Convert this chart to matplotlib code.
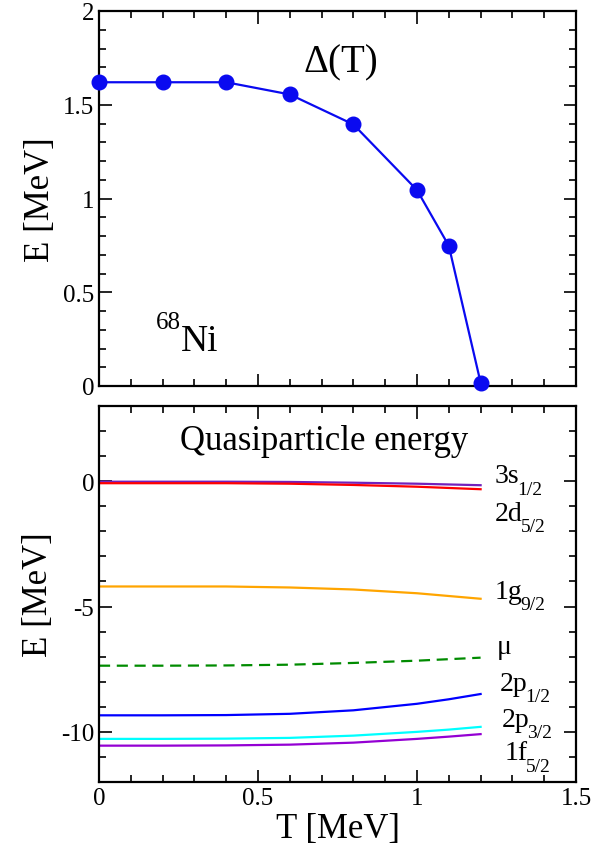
import matplotlib
matplotlib.use("Agg")
import matplotlib.pyplot as plt
from matplotlib.ticker import MultipleLocator, FuncFormatter
from matplotlib.transforms import offset_copy

plt.rcParams['font.family'] = ['Liberation Serif', 'DejaVu Serif']
plt.rcParams['axes.unicode_minus'] = False

# Pairing gap of 68Ni versus temperature
T = [0.0, 0.2, 0.4, 0.6, 0.8, 1.0, 1.1, 1.2]
gap = [1.62, 1.62, 1.62, 1.555, 1.395, 1.045, 0.748, 0.018]

# Quasiparticle energies (MeV) at the same temperatures
e_3s12 = [-0.02, -0.02, -0.02, -0.03, -0.06, -0.10, -0.13, -0.16]
e_2d52 = [-0.08, -0.08, -0.08, -0.10, -0.15, -0.22, -0.27, -0.32]
e_1g92 = [-4.20, -4.20, -4.20, -4.24, -4.32, -4.47, -4.58, -4.69]
e_mu = [-7.36, -7.36, -7.35, -7.32, -7.25, -7.16, -7.10, -7.04]
e_2p12 = [-9.34, -9.34, -9.33, -9.28, -9.14, -8.88, -8.70, -8.49]
e_2p32 = [-10.28, -10.28, -10.27, -10.24, -10.15, -10.00, -9.91, -9.80]
e_1f52 = [-10.55, -10.55, -10.54, -10.51, -10.43, -10.28, -10.19, -10.09]

W, H = 615, 853
fig = plt.figure(figsize=(W / 100, H / 100), dpi=100)
x0, x1 = 99, 576
ax1 = fig.add_axes([x0 / W, 1 - 387 / H, (x1 - x0) / W, (387 - 12) / H])
ax2 = fig.add_axes([x0 / W, 1 - 783 / H, (x1 - x0) / W, (783 - 407) / H])

TICK_FS = 18
LABEL_FS = 25
fmt = FuncFormatter(lambda v, p: f"{v:g}")


def style(ax):
    ax.tick_params(which='both', direction='in', top=True, right=True,
                   labelsize=TICK_FS, width=1.2)
    ax.tick_params(which='major', length=9)
    ax.tick_params(which='minor', length=5)
    for s in ax.spines.values():
        s.set_linewidth(1.6)
    ax.set_xlim(0, 1.5)
    ax.xaxis.set_major_locator(MultipleLocator(0.5))
    ax.xaxis.set_minor_locator(MultipleLocator(0.1))
    ax.xaxis.set_major_formatter(fmt)
    ax.yaxis.set_major_formatter(fmt)


# Upper panel: gap
ax1.plot(T, gap, color='#0a0af0', lw=1.6, marker='o', ms=10.5,
         clip_on=False, zorder=5)
ax1.set_ylim(0, 2)
ax1.yaxis.set_major_locator(MultipleLocator(0.5))
ax1.yaxis.set_minor_locator(MultipleLocator(0.1))
style(ax1)
ax1.tick_params(labelbottom=False)
ax1.set_ylabel('E [MeV]', fontsize=LABEL_FS)
ax1.text(0.76, 1.73, '\u0394(T)', fontsize=28, ha='center', va='center')
ax1.text(0.256, 0.19, 'Ni', fontsize=27, ha='left', va='baseline')
ax1.text(0.256, 0.31, '68', fontsize=18, ha='right', va='baseline')

# Lower panel: quasiparticle energies
lw = 1.6
ax2.plot(T, e_3s12, color='#7221bc', lw=lw)
ax2.plot(T, e_2d52, color='#ff0000', lw=lw)
ax2.plot(T, e_1g92, color='#ffa500', lw=lw)
ax2.plot(T, e_mu, color='#008b00', lw=lw, ls=(0, (5, 3)))
ax2.plot(T, e_2p12, color='#0000ff', lw=lw)
ax2.plot(T, e_2p32, color='#00ffff', lw=lw)
ax2.plot(T, e_1f52, color='#9400d3', lw=lw)
ax2.set_ylim(-12, 3)
ax2.yaxis.set_major_locator(MultipleLocator(5))
ax2.yaxis.set_minor_locator(MultipleLocator(1))
style(ax2)
ax2.set_ylabel('E [MeV]', fontsize=LABEL_FS)
ax2.set_xlabel('T [MeV]', fontsize=LABEL_FS, labelpad=2)
ax2.text(0.709, 1.62, 'Quasiparticle energy', fontsize=25,
         ha='center', va='center')

# Level labels: main text plus a lowered subscript
level_labels = [
    (1.245, -0.05, '3s', '1/2'),
    (1.245, -1.54, '2d', '5/2'),
    (1.245, -4.64, '1g', '9/2'),
    (1.25, -6.85, '\u03bc', ''),
    (1.26, -8.31, '2p', '1/2'),
    (1.265, -9.77, '2p', '3/2'),
    (1.275, -11.1, '1f', '5/2'),
]
fig.canvas.draw()
renderer = fig.canvas.get_renderer()
inv = ax2.transData.inverted()
for x, y, main, sub in level_labels:
    t = ax2.text(x, y, main, fontsize=20, ha='left', va='baseline')
    if not sub:
        continue
    bb = t.get_window_extent(renderer)
    _, y_disp = ax2.transData.transform((x, y))
    xs, _ = inv.transform((bb.x1 - 2, y_disp))
    tr = offset_copy(ax2.transData, fig=fig, x=0, y=-8, units='points')
    ax2.text(xs, y, sub, fontsize=14, ha='left', va='baseline', transform=tr)

fig.savefig('out.png', dpi=100)
